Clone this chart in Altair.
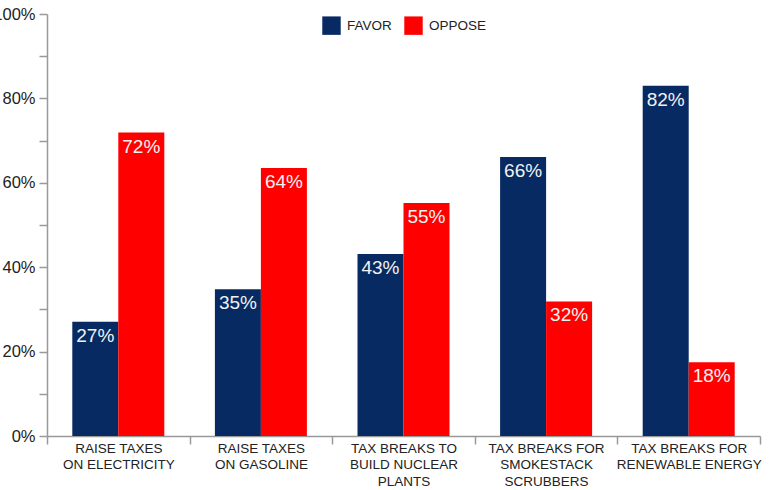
import altair as alt
import pandas as pd

categories = [
    "RAISE TAXES|ON ELECTRICITY",
    "RAISE TAXES|ON GASOLINE",
    "TAX BREAKS TO|BUILD NUCLEAR|PLANTS",
    "TAX BREAKS FOR|SMOKESTACK|SCRUBBERS",
    "TAX BREAKS FOR|RENEWABLE ENERGY",
]
series = ["FAVOR", "OPPOSE"]
# bar heights
favor = [27.1, 34.8, 43.1, 66.1, 83.0]
oppose = [71.9, 63.5, 55.2, 31.9, 17.5]
# printed labels
favor_labels = ["27%", "35%", "43%", "66%", "82%"]
oppose_labels = ["72%", "64%", "55%", "32%", "18%"]
colors = ["#062a61", "#ff0000"]
y_ticks = list(range(0, 101, 10))

rows = []
for c, f, o, fl, ol in zip(categories, favor, oppose, favor_labels, oppose_labels):
    rows.append({"cat": c, "series": "FAVOR", "value": f, "label": fl})
    rows.append({"cat": c, "series": "OPPOSE", "value": o, "label": ol})
df = pd.DataFrame(rows)

FONT = "Liberation Sans"

x_enc = alt.X(
    "cat:N",
    sort=categories,
    scale=alt.Scale(paddingInner=0, paddingOuter=0),
    axis=alt.Axis(
        title=None,
        labelAngle=0,
        labelExpr="split(datum.label, '|')",
        labelFont=FONT,
        labelFontSize=13.5,
        labelColor="#222222",
        labelLineHeight=16.5,
        labelPadding=-3,
        tickBand="extent",
        tickSize=8,
        tickColor="#999999",
        domainColor="#999999",
        domainWidth=1.5,
        tickWidth=1.5,
    ),
)
xoff = alt.XOffset("series:N", sort=series, scale=alt.Scale(paddingOuter=0.55, paddingInner=0))
y_enc = alt.Y(
    "value:Q",
    scale=alt.Scale(domain=[0, 100], nice=False),
    axis=alt.Axis(
        title=None,
        values=y_ticks,
        labelExpr="datum.value % 20 == 0 ? datum.value + '%' : ''",
        labelFont=FONT,
        labelFontSize=16.5,
        labelColor="#222222",
        labelPadding=4,
        tickSize=8,
        tickColor="#999999",
        domainColor="#999999",
        domainWidth=1.5,
        tickWidth=1.5,
        grid=False,
    ),
)

bars = alt.Chart(df).mark_bar(size=46).encode(
    x=x_enc,
    xOffset=xoff,
    y=y_enc,
    color=alt.Color(
        "series:N",
        sort=series,
        scale=alt.Scale(domain=series, range=colors),
        legend=alt.Legend(
            title=None,
            orient="none",
            legendX=275,
            legendY=2,
            direction="horizontal",
            symbolType="square",
            symbolSize=340,
            symbolStrokeWidth=0,
            labelFont=FONT,
            labelFontSize=13.5,
            labelColor="#222222",
            columnPadding=12,
            labelOffset=6,
        ),
    ),
)

labels = alt.Chart(df).mark_text(
    baseline="top", align="center", dy=5, color="#f2f2f2", font=FONT, fontSize=19
).encode(
    x=alt.X("cat:N", sort=categories),
    xOffset=xoff,
    y=alt.Y("value:Q"),
    text=alt.Text("label:N"),
)

chart = (
    alt.layer(bars, labels)
    .properties(
        width=713,
        height=422,
        autosize=alt.AutoSizeParams(type="none"),
        padding={"left": 47, "top": 14, "right": 21, "bottom": 54},
        background="white",
    )
    .configure_view(stroke=None)
)

chart.save("out.html", embed_options={"renderer": "svg", "actions": False})
